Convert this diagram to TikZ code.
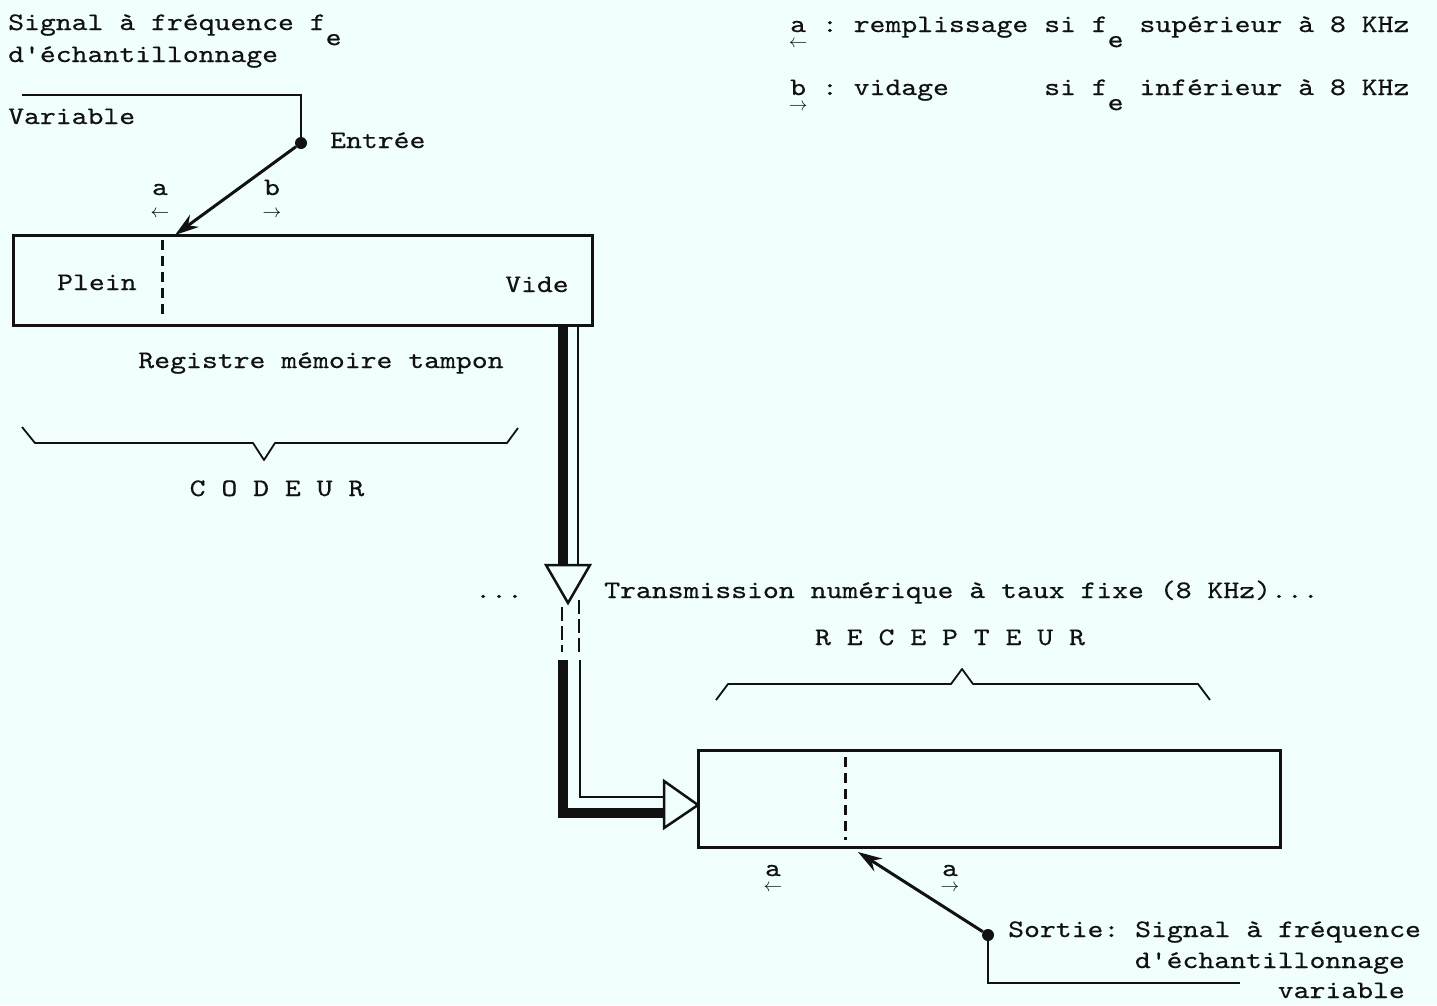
\documentclass[tikz,border=0pt]{standalone}
\usepackage{fontspec}
\newfontfamily\typew{lmmono10-regular}[Extension=.otf, FakeStretch=1.2, FakeBold=0.45]
\usetikzlibrary{arrows.meta,positioning,calc}
\definecolor{paper}{HTML}{F0FEFE}
\definecolor{ink}{HTML}{111111}

\newcommand{\fe}{f\raisebox{-0.6em}{e}}
\newcommand{\smallarr}[1]{\scalebox{0.75}{$#1$}}
\newcommand{\ularr}[2]{\rlap{\raisebox{-0.62em}{\makebox[0.63em]{\smallarr{#2}}}}#1}

\begin{document}
\begin{tikzpicture}[
  x=1pt, y=-1pt,
  font=\typew\fontsize{25.2}{30}\selectfont\frenchspacing,
  >=Stealth,
  txt/.style={inner sep=0pt, anchor=base west, text=ink},
  regbox/.style={
    draw=ink,
    line width=3pt,
    rectangle,
    inner sep=0pt
  },
  levelmark/.style={draw=ink, line width=3pt, dash pattern=on 10pt off 6pt},
  dotnode/.style={circle, fill=ink, inner sep=0pt, minimum size=12pt},
  brace/.style={draw=ink, line width=1.8pt, line join=round},
  wire/.style={draw=ink, line width=2.5pt},
  feed/.style={draw=ink, line width=3pt, -{Stealth[length=24pt,width=15pt]}},
  hollowtip/.style={draw=ink, fill=paper, line width=2.5pt, line join=miter}
]

  \fill[paper] (0,0) rectangle (1437,1005);
  \useasboundingbox (0,0) rectangle (1437,1005);

  % --- LEGEND ---
  \node[txt] (leg1) at (790,32) {\ularr{a}{\leftarrow} : remplissage si \fe{} supérieur à 8 KHz};
  \node[txt] (leg2) at (790,95) {\ularr{b}{\rightarrow} : vidage\ \ \ \ \ \ si \fe{} inférieur à 8 KHz};

  % --- CODEUR: INPUT SIGNAL ---
  \node[txt] (sig1) at (8,30) {Signal à fréquence \fe};
  \node[txt] (sig2) at (8,62) {d'échantillonnage};
  \node[txt] (var) at (8,124) {Variable};
  \node[dotnode] (din) at (301,143) {};
  \node[txt] (ent) at (330,148) {Entrée};
  \coordinate (varin) at (22,95);
  \draw[wire] (varin) -| (din.center);

  % --- CODEUR: BUFFER REGISTER ---
  \node[regbox, minimum width=579pt, minimum height=90pt] (cod) at (302.5,280) {};
  \draw[levelmark] (162,240) -- (162,320);
  \node[txt] (plein) at (57,290) {Plein};
  \node[txt] (vide) at (505,292) {Vide};
  \node[txt, anchor=base] (regl) at (321,368) {Registre mémoire tampon};

  \coordinate (cin) at (175,235);
  \draw[feed] (din) -- (cin);
  \node[txt, anchor=base] (la) at (160,195) {a};
  \node[inner sep=0pt] (laar) at (160,214) {\smallarr{\leftarrow}};
  \node[txt, anchor=base] (lb) at (272,195) {b};
  \node[inner sep=0pt] (lbar) at (272,214) {\smallarr{\rightarrow}};

  \draw[brace] (22,427) -- (35,443) -- (253,443) -- (264,460) -- (275,443) -- (507,443) -- (518,428);
  \node[txt, anchor=base] (codl) at (277,496) {C O D E U R};

  % --- FIXED RATE CHANNEL ---
  \draw[draw=ink, line width=10pt] (563,325) -- (563,565);
  \draw[wire] (578,325) -- (578,565);
  \draw[hollowtip] (546,565) -- (590,565) -- (568,603) -- cycle;
  \draw[wire, dash pattern=on 14pt off 5pt] (562,607) -- (562,652);
  \draw[wire, dash pattern=on 14pt off 5pt] (579,600) -- (579,652);
  \draw[draw=ink, line width=10pt, line join=miter] (563,660) -- (563,813) -- (664,813);
  \draw[wire] (580,660) -- (580,797) -- (664,797);
  \draw[hollowtip] (664,781) -- (664,828) -- (698,805) -- cycle;

  \node[txt] (dots) at (475,598) {...};
  \node[txt] (trans) at (604,598) {Transmission numérique à taux fixe (8 KHz)...};

  % --- RECEPTEUR ---
  \node[txt, anchor=base] (recl) at (950,645) {R E C E P T E U R};
  \draw[brace] (716,700) -- (728,684) -- (951,684) -- (962,669) -- (973,684) -- (1198,684) -- (1210,700);

  \node[regbox, minimum width=582pt, minimum height=97pt] (rec) at (989,798.5) {};
  \draw[levelmark] (845,757) -- (845,840);

  \node[txt, anchor=base] (ra) at (773,876) {\ularr{a}{\leftarrow}};
  \node[txt, anchor=base] (rb) at (950,876) {\ularr{a}{\rightarrow}};

  \node[dotnode] (dout) at (988,935) {};
  \coordinate (rout) at (858,852);
  \draw[feed] (dout) -- (rout);
  \coordinate (varout) at (1240,983);
  \draw[wire] (dout.center) |- (varout);

  \node[txt] (sor1) at (1008,937) {Sortie: Signal à fréquence};
  \node[txt, anchor=base east] (sor2) at (1405,968) {d'échantillonnage};
  \node[txt, anchor=base east] (sor3) at (1405,998) {variable};

\end{tikzpicture}
\end{document}
